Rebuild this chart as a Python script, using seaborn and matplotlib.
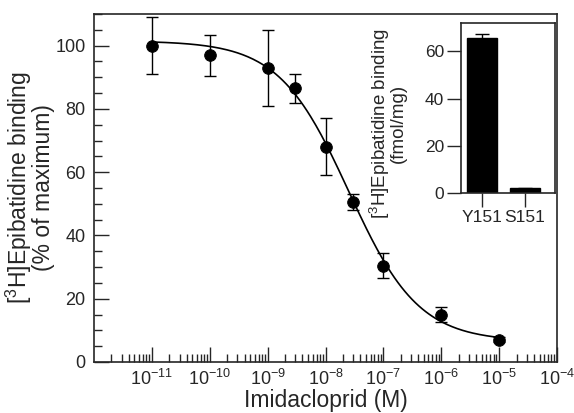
import numpy as np
import pandas as pd
import seaborn as sns
import matplotlib
matplotlib.use("Agg")
import matplotlib.pyplot as plt
from matplotlib.ticker import MultipleLocator, LogLocator, NullFormatter

# competition data
conc = [1e-11, 1e-10, 1e-9, 3e-9, 1e-8, 3e-8, 1e-7, 1e-6, 1e-5]
binding = [100, 97, 93, 86.5, 68, 50.5, 30.5, 15, 7]
err = [9, 6.5, 12, 4.5, 9, 2.5, 4, 2.5, 0.8]

# fitted one-site curve parameters
top, bottom, log_ic50, hill = 101.5, 6.5, -7.6, 0.72

# inset data
mutants = ["Y151", "S151"]
fmol = [65.5, 2.0]
fmol_err = [2.0, 0.3]

sns.set_style("ticks")
plt.rcParams["font.family"] = ["Liberation Sans", "DejaVu Sans"]
plt.rcParams["mathtext.fontset"] = "custom"
plt.rcParams["mathtext.rm"] = "Liberation Sans"
plt.rcParams["mathtext.it"] = "Liberation Sans:italic"
plt.rcParams["axes.unicode_minus"] = False

fig = plt.figure(figsize=(5.74, 4.13), dpi=100)
ax = fig.add_axes([0.1638, 0.1235, 0.8066, 0.8425])

# fitted curve
xs = np.logspace(-11, -5, 200)
ys = bottom + (top - bottom) / (1 + 10 ** ((np.log10(xs) - log_ic50) * hill))
sns.lineplot(x=xs, y=ys, color="black", lw=1.2, ax=ax)

ax.errorbar(conc, binding, yerr=err, fmt="none", ecolor="black",
            elinewidth=1.0, capsize=4, capthick=1.0)
sns.scatterplot(x=conc, y=binding, color="black", s=70, edgecolor="black",
                zorder=5, ax=ax)

ax.set_xscale("log")
ax.set_xlim(1e-12, 1e-4)
ax.set_ylim(0, 110)
ax.set_xticks([10.0 ** k for k in range(-11, -3)])
ax.xaxis.set_minor_locator(LogLocator(base=10, subs=np.arange(2, 10), numticks=20))
ax.xaxis.set_minor_formatter(NullFormatter())
ax.yaxis.set_major_locator(MultipleLocator(20))
ax.yaxis.set_minor_locator(MultipleLocator(5))
ax.tick_params(which="major", direction="in", length=11, width=1.0,
               labelsize=13, top=False, right=False)
ax.tick_params(which="minor", direction="in", length=5.5, width=1.0,
               top=False, right=False)
ax.tick_params(axis="y", pad=6)
ax.tick_params(axis="x", pad=5)
for s in ax.spines.values():
    s.set_linewidth(1.2)

ax.set_xlabel("Imidacloprid (M)", fontsize=16.5, labelpad=0)
ax.set_ylabel("[$^3$H]Epibatidine binding\n(% of maximum)", fontsize=16.5,
              linespacing=0.9, labelpad=0)

# inset
ins = fig.add_axes([0.803, 0.5327, 0.1638, 0.4116])
df = pd.DataFrame({"mutant": mutants, "fmol": fmol})
sns.barplot(data=df, x="mutant", y="fmol", color="black", width=0.7,
            edgecolor="black", errorbar=None, ax=ins)
ins.errorbar([0, 1], fmol, yerr=fmol_err, fmt="none", ecolor="black",
             elinewidth=1.0, capsize=5, capthick=1.0)
ins.set_xlim(-0.5, 1.7)
ins.set_ylim(0, 72)
ins.yaxis.set_major_locator(MultipleLocator(20))
ins.tick_params(direction="out", length=10, width=1.0, labelsize=12.5, pad=2)
ins.set_xlabel("")
ins.set_ylabel("[$^3$H]Epibatidine binding\n(fmol/mg)", fontsize=13.5,
               linespacing=0.9)
ins.yaxis.set_label_coords(-0.57, 0.41)
for s in ins.spines.values():
    s.set_linewidth(1.2)
    s.set_visible(True)

fig.savefig("out.png", dpi=100)
